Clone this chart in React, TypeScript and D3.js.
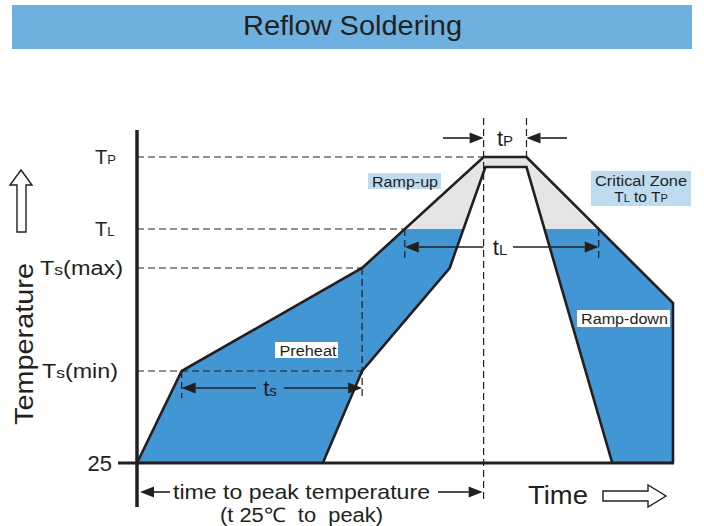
import React from "react";
import * as d3 from "d3";

// Schematic reflow profile (time in s, temperature in °C)
const TIME_OUTER = [0, 25, 126, 194, 218, 300, 300];
const TEMP_OUTER = [25, 150, 200, 260, 260, 183, 25];
const TIME_INNER = [104, 126, 175, 195, 218, 266];
const TEMP_INNER = [25, 150, 200, 254, 254, 25];
const TEMP_LEVELS = [25, 150, 200, 217, 260];
const T_MIN = 150;
const T_MAX = 200;
const T_L = 217;
const T_P = 260;
const TS_START = 25;
const TS_END = 126;
const TP_START = 194;
const TP_END = 218;

const W = 704;
const H = 526;
const FONT = "'Liberation Sans', Arial, Helvetica, sans-serif";
const INK = "#231f20";
const BLUE = "#4196d3";
const GRAY = "#e4e5e7";
const LIGHT = "#bddcf2";

const x = d3.scaleLinear().domain([0, 300]).range([137, 673]);
const y = d3.scaleLinear().domain(TEMP_LEVELS).range([463, 371, 268, 229, 157]);

type P = [number, number];
const outerPts: P[] = TIME_OUTER.map((t, i) => [x(t), y(TEMP_OUTER[i])]);
const innerPts: P[] = TIME_INNER.map((t, i) => [x(t), y(TEMP_INNER[i])]);

function crossings(pts: P[], yl: number): number[] {
  const res: number[] = [];
  for (let i = 0; i < pts.length - 1; i++) {
    const [x0, y0] = pts[i];
    const [x1, y1] = pts[i + 1];
    if ((y0 - yl) * (y1 - yl) <= 0 && y0 !== y1) {
      res.push(x0 + ((yl - y0) / (y1 - y0)) * (x1 - x0));
    }
  }
  return res;
}

const line = d3.line<P>();

function ArrowH({ x1, x2, yy }: { x1: number; x2: number; yy: number }) {
  const dir = Math.sign(x2 - x1);
  const hl = 14;
  const hw = 5.5;
  return (
    <g>
      <line x1={x1} y1={yy} x2={x2 - dir * hl} y2={yy} stroke={INK} strokeWidth={1.6} />
      <polygon points={`${x2},${yy} ${x2 - dir * hl},${yy - hw} ${x2 - dir * hl},${yy + hw}`} fill={INK} />
    </g>
  );
}

function Dash({ x1, y1, x2, y2 }: { x1: number; y1: number; x2: number; y2: number }) {
  return <line x1={x1} y1={y1} x2={x2} y2={y2} stroke={INK} strokeWidth={1.2} strokeDasharray="7,4" />;
}

export default function App() {
  const yTL = y(T_L);
  const yTP = y(T_P);
  const yMin = y(T_MIN);
  const yMax = y(T_MAX);
  const y25 = y(25);
  const xTL = crossings(outerPts, yTL);
  const xTLleft = xTL[0];
  const xTLright = xTL[xTL.length - 1];
  const xTs0 = x(TS_START);
  const xTs1 = x(TS_END);
  const xP0 = x(TP_START);
  const xP1 = x(TP_END);
  const xMaxOuter = crossings(outerPts, yMax)[0];

  const fillPoly: P[] = [...outerPts, ...innerPts.slice().reverse()];
  const fillD = line(fillPoly) + "Z";

  return (
    <svg width={W} height={H} style={{ position: "absolute", left: 0, top: 0 }} fontFamily={FONT}>
      <rect x={0} y={0} width={W} height={H} fill="#fff" />
      {/* Title bar */}
      <rect x={12} y={5} width={680} height={44} fill="#6eb1e1" />
      <text x={352.5} y={35} textAnchor="middle" fontSize={28} fill="#231f20" textLength={219} lengthAdjust="spacingAndGlyphs">
        Reflow Soldering
      </text>

      <defs>
        <clipPath id="below">
          <rect x={0} y={yTL} width={W} height={H - yTL} />
        </clipPath>
        <clipPath id="above">
          <rect x={0} y={0} width={W} height={yTL} />
        </clipPath>
      </defs>

      {/* Fills */}
      <path d={fillD} fill={GRAY} clipPath="url(#above)" />
      <path d={fillD} fill={BLUE} clipPath="url(#below)" />

      {/* Dashed guides */}
      <Dash x1={137} y1={yTP} x2={xP0} y2={yTP} />
      <Dash x1={137} y1={yTL} x2={xTLleft} y2={yTL} />
      <Dash x1={137} y1={yMax} x2={xMaxOuter} y2={yMax} />
      <Dash x1={137} y1={yMin} x2={xTs1} y2={yMin} />
      <Dash x1={xP0} y1={118} x2={xP0} y2={502} />
      <Dash x1={xP1} y1={118} x2={xP1} y2={yTP} />
      <Dash x1={xTs0} y1={yMin} x2={xTs0} y2={398} />
      <Dash x1={xTs1} y1={yMax} x2={xTs1} y2={398} />
      <Dash x1={xTLleft} y1={yTL} x2={xTLleft} y2={258} />
      <Dash x1={xTLright} y1={yTL} x2={xTLright} y2={258} />

      {/* Profile lines */}
      <path d={line(outerPts) || ""} fill="none" stroke={INK} strokeWidth={2.6} strokeLinejoin="miter" />
      <path d={line(innerPts) || ""} fill="none" stroke={INK} strokeWidth={2.6} strokeLinejoin="miter" />

      {/* Axes */}
      <line x1={118} y1={y25} x2={x(300) + 1} y2={y25} stroke={INK} strokeWidth={3} />
      <line x1={137} y1={130} x2={137} y2={507} stroke={INK} strokeWidth={3.5} />

      {/* Y labels */}
      <text x={112} y={y25 + 8} textAnchor="end" fontSize={22} fill={INK}>25</text>
      <text x={42} y={yMin + 7} fontSize={20} fill={INK} textLength={76} lengthAdjust="spacingAndGlyphs">
        T<tspan fontSize={15}>s</tspan>(min)
      </text>
      <text x={40} y={yMax + 7} fontSize={20} fill={INK} textLength={83} lengthAdjust="spacingAndGlyphs">
        T<tspan fontSize={15}>s</tspan>(max)
      </text>
      <text x={95} y={yTL + 7} fontSize={20} fill={INK}>
        T<tspan fontSize={13}>L</tspan>
      </text>
      <text x={95} y={yTP + 7} fontSize={20} fill={INK}>
        T<tspan fontSize={13}>P</tspan>
      </text>

      {/* Temperature axis title */}
      <text
        transform="translate(33,344) rotate(-90)"
        textAnchor="middle"
        fontSize={26}
        fill={INK}
        textLength={162}
        lengthAdjust="spacingAndGlyphs"
      >
        Temperature
      </text>
      <polygon
        points="21,170 32,185 26,185 26,232 17,232 17,185 10,185"
        fill="#fff"
        stroke={INK}
        strokeWidth={1.4}
      />

      {/* Boxes */}
      <rect x={368} y={173} width={73} height={16} fill={LIGHT} />
      <text x={405} y={186.5} textAnchor="middle" fontSize={15.5} fill={INK} textLength={66} lengthAdjust="spacingAndGlyphs">Ramp-up</text>
      <rect x={591} y={171} width={100} height={35} fill={LIGHT} />
      <text x={641} y={185.5} textAnchor="middle" fontSize={15.5} fill={INK} textLength={92} lengthAdjust="spacingAndGlyphs">Critical Zone</text>
      <text x={641} y={202} textAnchor="middle" fontSize={15.5} fill={INK}>
        T<tspan fontSize={11}>L</tspan> to T<tspan fontSize={11}>P</tspan>
      </text>
      <rect x={275} y={342} width={63} height={16} fill="#fff" />
      <text x={308} y={355.5} textAnchor="middle" fontSize={15.5} fill={INK} textLength={57} lengthAdjust="spacingAndGlyphs">Preheat</text>
      <rect x={577} y={310} width={93} height={17} fill="#fff" />
      <text x={624.5} y={324} textAnchor="middle" fontSize={15.5} fill={INK} textLength={87} lengthAdjust="spacingAndGlyphs">Ramp-down</text>

      {/* tP */}
      <ArrowH x1={443} x2={xP0} yy={138} />
      <ArrowH x1={567} x2={xP1} yy={138} />
      <text x={505} y={146} textAnchor="middle" fontSize={22} fill={INK}>
        t<tspan fontSize={15}>P</tspan>
      </text>

      {/* tL */}
      <ArrowH x1={xP0} x2={xTLleft} yy={247} />
      <ArrowH x1={513} x2={xTLright} yy={247} />
      <text x={500} y={255} textAnchor="middle" fontSize={22} fill={INK}>
        t<tspan fontSize={15}>L</tspan>
      </text>

      {/* ts */}
      <ArrowH x1={256} x2={xTs0} yy={388} />
      <ArrowH x1={284} x2={xTs1} yy={388} />
      <text x={270} y={396} textAnchor="middle" fontSize={22} fill={INK}>
        t<tspan fontSize={15}>s</tspan>
      </text>

      {/* time to peak */}
      <ArrowH x1={170} x2={140} yy={492} />
      <ArrowH x1={438} x2={xP0 - 1} yy={492} />
      <text x={173} y={499} fontSize={21} fill={INK} textLength={257} lengthAdjust="spacingAndGlyphs">
        time to peak temperature
      </text>
      <text x={220} y={522} fontSize={20} fill={INK} textLength={163} lengthAdjust="spacingAndGlyphs" style={{ whiteSpace: "pre" }}>
        {"(t 25℃  to  peak)"}
      </text>

      {/* Time axis title */}
      <text x={528} y={504} fontSize={25} fill={INK} textLength={60} lengthAdjust="spacingAndGlyphs">
        Time
      </text>
      <polygon
        points="603,491 648,491 648,485 666,496 648,507 648,501 603,501"
        fill="#fff"
        stroke={INK}
        strokeWidth={1.4}
      />
    </svg>
  );
}
